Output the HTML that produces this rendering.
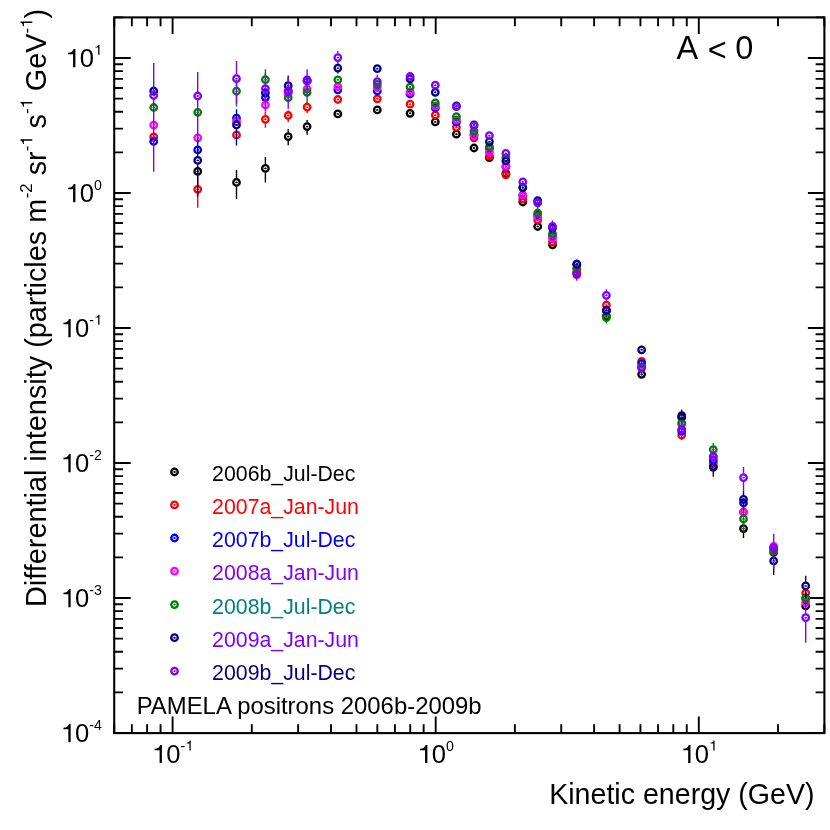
<!DOCTYPE html><html><head><meta charset="utf-8"><title>PAMELA positrons</title>
<style>html,body{margin:0;padding:0;background:#fff}svg{display:block;will-change:transform}text{font-family:"Liberation Sans",sans-serif;fill:#000}</style></head><body>
<svg width="830" height="830" viewBox="0 0 830 830">
<rect width="830" height="830" fill="#fff"/>
<rect x="114.2" y="17.4" width="710.2" height="715.7" fill="none" stroke="#000" stroke-width="2.1"/>
<path d="M114.23 733.1v-8.8M114.23 17.4v8.8M131.85 733.1v-8.8M131.85 17.4v8.8M147.10 733.1v-8.8M147.10 17.4v8.8M160.56 733.1v-8.8M160.56 17.4v8.8M172.60 733.1v-16.5M172.60 17.4v16.5M251.80 733.1v-8.8M251.80 17.4v8.8M298.13 733.1v-8.8M298.13 17.4v8.8M331.00 733.1v-8.8M331.00 17.4v8.8M356.50 733.1v-8.8M356.50 17.4v8.8M377.33 733.1v-8.8M377.33 17.4v8.8M394.95 733.1v-8.8M394.95 17.4v8.8M410.20 733.1v-8.8M410.20 17.4v8.8M423.66 733.1v-8.8M423.66 17.4v8.8M435.70 733.1v-16.5M435.70 17.4v16.5M514.90 733.1v-8.8M514.90 17.4v8.8M561.23 733.1v-8.8M561.23 17.4v8.8M594.10 733.1v-8.8M594.10 17.4v8.8M619.60 733.1v-8.8M619.60 17.4v8.8M640.43 733.1v-8.8M640.43 17.4v8.8M658.05 733.1v-8.8M658.05 17.4v8.8M673.30 733.1v-8.8M673.30 17.4v8.8M686.76 733.1v-8.8M686.76 17.4v8.8M698.80 733.1v-16.5M698.80 17.4v16.5M778.00 733.1v-8.8M778.00 17.4v8.8M824.33 733.1v-8.8M824.33 17.4v8.8M114.2 733.00h16.5M824.4 733.00h-16.5M114.2 692.36h8.8M824.4 692.36h-8.8M114.2 668.59h8.8M824.4 668.59h-8.8M114.2 651.72h8.8M824.4 651.72h-8.8M114.2 638.64h8.8M824.4 638.64h-8.8M114.2 627.95h8.8M824.4 627.95h-8.8M114.2 618.91h8.8M824.4 618.91h-8.8M114.2 611.08h8.8M824.4 611.08h-8.8M114.2 604.18h8.8M824.4 604.18h-8.8M114.2 598.00h16.5M824.4 598.00h-16.5M114.2 557.36h8.8M824.4 557.36h-8.8M114.2 533.59h8.8M824.4 533.59h-8.8M114.2 516.72h8.8M824.4 516.72h-8.8M114.2 503.64h8.8M824.4 503.64h-8.8M114.2 492.95h8.8M824.4 492.95h-8.8M114.2 483.91h8.8M824.4 483.91h-8.8M114.2 476.08h8.8M824.4 476.08h-8.8M114.2 469.18h8.8M824.4 469.18h-8.8M114.2 463.00h16.5M824.4 463.00h-16.5M114.2 422.36h8.8M824.4 422.36h-8.8M114.2 398.59h8.8M824.4 398.59h-8.8M114.2 381.72h8.8M824.4 381.72h-8.8M114.2 368.64h8.8M824.4 368.64h-8.8M114.2 357.95h8.8M824.4 357.95h-8.8M114.2 348.91h8.8M824.4 348.91h-8.8M114.2 341.08h8.8M824.4 341.08h-8.8M114.2 334.18h8.8M824.4 334.18h-8.8M114.2 328.00h16.5M824.4 328.00h-16.5M114.2 287.36h8.8M824.4 287.36h-8.8M114.2 263.59h8.8M824.4 263.59h-8.8M114.2 246.72h8.8M824.4 246.72h-8.8M114.2 233.64h8.8M824.4 233.64h-8.8M114.2 222.95h8.8M824.4 222.95h-8.8M114.2 213.91h8.8M824.4 213.91h-8.8M114.2 206.08h8.8M824.4 206.08h-8.8M114.2 199.18h8.8M824.4 199.18h-8.8M114.2 193.00h16.5M824.4 193.00h-16.5M114.2 152.36h8.8M824.4 152.36h-8.8M114.2 128.59h8.8M824.4 128.59h-8.8M114.2 111.72h8.8M824.4 111.72h-8.8M114.2 98.64h8.8M824.4 98.64h-8.8M114.2 87.95h8.8M824.4 87.95h-8.8M114.2 78.91h8.8M824.4 78.91h-8.8M114.2 71.08h8.8M824.4 71.08h-8.8M114.2 64.18h8.8M824.4 64.18h-8.8M114.2 58.00h16.5M824.4 58.00h-16.5M114.2 17.36h8.8M824.4 17.36h-8.8" stroke="#000" stroke-width="1.9" fill="none"/>
<path d="M102 560v-58h193V0h90V709h-66c-28-98-92-140-217-149z" transform="translate(152.05,763.10) scale(0.02560,-0.02560)" fill="#000"/><text transform="translate(166.29,763.10) scale(1,1.035)" font-size="25.6">0</text><text x="180.52" y="750.60" font-size="14.2">-</text><path d="M102 560v-58h193V0h90V709h-66c-28-98-92-140-217-149z" transform="translate(185.25,750.60) scale(0.01420,-0.01420)" fill="#000"/>
<path d="M102 560v-58h193V0h90V709h-66c-28-98-92-140-217-149z" transform="translate(417.52,763.10) scale(0.02560,-0.02560)" fill="#000"/><text transform="translate(431.75,763.10) scale(1,1.035)" font-size="25.6">0</text><text transform="translate(445.99,750.60) scale(1,1.035)" font-size="14.2">0</text>
<path d="M102 560v-58h193V0h90V709h-66c-28-98-92-140-217-149z" transform="translate(680.62,763.10) scale(0.02560,-0.02560)" fill="#000"/><text transform="translate(694.85,763.10) scale(1,1.035)" font-size="25.6">0</text><path d="M102 560v-58h193V0h90V709h-66c-28-98-92-140-217-149z" transform="translate(709.09,750.60) scale(0.01420,-0.01420)" fill="#000"/>
<path d="M102 560v-58h193V0h90V709h-66c-28-98-92-140-217-149z" transform="translate(60.81,742.20) scale(0.02560,-0.02560)" fill="#000"/><text transform="translate(75.04,742.20) scale(1,1.035)" font-size="25.6">0</text><text x="89.28" y="729.70" font-size="14.2">-</text><text transform="translate(94.00,729.70) scale(1,1.035)" font-size="14.2">4</text>
<path d="M102 560v-58h193V0h90V709h-66c-28-98-92-140-217-149z" transform="translate(60.81,607.20) scale(0.02560,-0.02560)" fill="#000"/><text transform="translate(75.04,607.20) scale(1,1.035)" font-size="25.6">0</text><text x="89.28" y="594.70" font-size="14.2">-</text><text transform="translate(94.00,594.70) scale(1,1.035)" font-size="14.2">3</text>
<path d="M102 560v-58h193V0h90V709h-66c-28-98-92-140-217-149z" transform="translate(60.81,472.20) scale(0.02560,-0.02560)" fill="#000"/><text transform="translate(75.04,472.20) scale(1,1.035)" font-size="25.6">0</text><text x="89.28" y="459.70" font-size="14.2">-</text><text transform="translate(94.00,459.70) scale(1,1.035)" font-size="14.2">2</text>
<path d="M102 560v-58h193V0h90V709h-66c-28-98-92-140-217-149z" transform="translate(60.81,337.20) scale(0.02560,-0.02560)" fill="#000"/><text transform="translate(75.04,337.20) scale(1,1.035)" font-size="25.6">0</text><text x="89.28" y="324.70" font-size="14.2">-</text><path d="M102 560v-58h193V0h90V709h-66c-28-98-92-140-217-149z" transform="translate(94.00,324.70) scale(0.01420,-0.01420)" fill="#000"/>
<path d="M102 560v-58h193V0h90V709h-66c-28-98-92-140-217-149z" transform="translate(65.54,202.20) scale(0.02560,-0.02560)" fill="#000"/><text transform="translate(79.77,202.20) scale(1,1.035)" font-size="25.6">0</text><text transform="translate(94.00,189.70) scale(1,1.035)" font-size="14.2">0</text>
<path d="M102 560v-58h193V0h90V709h-66c-28-98-92-140-217-149z" transform="translate(65.54,67.20) scale(0.02560,-0.02560)" fill="#000"/><text transform="translate(79.77,67.20) scale(1,1.035)" font-size="25.6">0</text><path d="M102 560v-58h193V0h90V709h-66c-28-98-92-140-217-149z" transform="translate(94.00,54.70) scale(0.01420,-0.01420)" fill="#000"/>
<text x="549.2" y="803.6" font-size="28.6">Kinetic energy (GeV)</text>
<g transform="translate(46.3,607.0) rotate(-90)"><text x="0.00" y="0" font-size="28.85" xml:space="preserve">Differential intensity (particles m</text><text x="408.80" y="-14.00" font-size="16.7">-</text><text x="414.37" y="-14.00" font-size="16.7">2</text><text x="423.65" y="0" font-size="28.85" xml:space="preserve"> sr</text><text x="455.70" y="-14.00" font-size="16.7">-</text><path d="M102 560v-58h193V0h90V709h-66c-28-98-92-140-217-149z" transform="translate(461.26,-14.00) scale(0.01670,-0.01670)" fill="#000"/><text x="470.55" y="0" font-size="28.85" xml:space="preserve"> s</text><text x="492.99" y="-14.00" font-size="16.7">-</text><path d="M102 560v-58h193V0h90V709h-66c-28-98-92-140-217-149z" transform="translate(498.56,-14.00) scale(0.01670,-0.01670)" fill="#000"/><text x="507.84" y="0" font-size="28.85" xml:space="preserve"> GeV</text><text x="573.59" y="-14.00" font-size="16.7">-</text><path d="M102 560v-58h193V0h90V709h-66c-28-98-92-140-217-149z" transform="translate(579.15,-14.00) scale(0.01670,-0.01670)" fill="#000"/><text x="588.44" y="0" font-size="28.85" xml:space="preserve">)</text></g>
<text transform="translate(676.4,58.7) scale(1,1.03)" font-size="32.5">A<tspan dx="0.7" dy="2.3"> &lt;</tspan><tspan dx="-0.7" dy="-2.3"> 0</tspan></text>
<text x="136.7" y="713.6" font-size="23.9">PAMELA positrons 2006b-2009b</text>
<g>
<path d="M236.5 170.0V178.4M236.5 186.4V198.9M265.4 157.1V164.4M265.4 172.4V182.4M288.2 129.0V132.6M288.2 140.6V145.3M307.1 119.9V122.6M307.1 130.6V134.7M743.5 521.0V524.6M743.5 532.6V537.9" stroke="#000000" stroke-width="1.4" fill="none"/>
<ellipse cx="197.7" cy="171.4" rx="1.3" ry="0.95" fill="#000000"/><circle cx="197.7" cy="171.4" r="3.25" fill="none" stroke="#000000" stroke-width="2.3"/>
<ellipse cx="236.5" cy="182.4" rx="1.3" ry="0.95" fill="#000000"/><circle cx="236.5" cy="182.4" r="3.25" fill="none" stroke="#000000" stroke-width="2.3"/>
<ellipse cx="265.4" cy="168.4" rx="1.3" ry="0.95" fill="#000000"/><circle cx="265.4" cy="168.4" r="3.25" fill="none" stroke="#000000" stroke-width="2.3"/>
<ellipse cx="288.2" cy="136.6" rx="1.3" ry="0.95" fill="#000000"/><circle cx="288.2" cy="136.6" r="3.25" fill="none" stroke="#000000" stroke-width="2.3"/>
<ellipse cx="307.1" cy="126.6" rx="1.3" ry="0.95" fill="#000000"/><circle cx="307.1" cy="126.6" r="3.25" fill="none" stroke="#000000" stroke-width="2.3"/>
<ellipse cx="337.8" cy="113.9" rx="1.3" ry="0.95" fill="#000000"/><circle cx="337.8" cy="113.9" r="3.25" fill="none" stroke="#000000" stroke-width="2.3"/>
<ellipse cx="377.3" cy="109.9" rx="1.3" ry="0.95" fill="#000000"/><circle cx="377.3" cy="109.9" r="3.25" fill="none" stroke="#000000" stroke-width="2.3"/>
<ellipse cx="410.1" cy="113.3" rx="1.3" ry="0.95" fill="#000000"/><circle cx="410.1" cy="113.3" r="3.25" fill="none" stroke="#000000" stroke-width="2.3"/>
<ellipse cx="435.3" cy="121.9" rx="1.3" ry="0.95" fill="#000000"/><circle cx="435.3" cy="121.9" r="3.25" fill="none" stroke="#000000" stroke-width="2.3"/>
<ellipse cx="456.4" cy="134.2" rx="1.3" ry="0.95" fill="#000000"/><circle cx="456.4" cy="134.2" r="3.25" fill="none" stroke="#000000" stroke-width="2.3"/>
<ellipse cx="474.0" cy="148.0" rx="1.3" ry="0.95" fill="#000000"/><circle cx="474.0" cy="148.0" r="3.25" fill="none" stroke="#000000" stroke-width="2.3"/>
<ellipse cx="489.4" cy="157.7" rx="1.3" ry="0.95" fill="#000000"/><circle cx="489.4" cy="157.7" r="3.25" fill="none" stroke="#000000" stroke-width="2.3"/>
<ellipse cx="505.9" cy="173.4" rx="1.3" ry="0.95" fill="#000000"/><circle cx="505.9" cy="173.4" r="3.25" fill="none" stroke="#000000" stroke-width="2.3"/>
<ellipse cx="522.8" cy="202.0" rx="1.3" ry="0.95" fill="#000000"/><circle cx="522.8" cy="202.0" r="3.25" fill="none" stroke="#000000" stroke-width="2.3"/>
<ellipse cx="537.7" cy="226.5" rx="1.3" ry="0.95" fill="#000000"/><circle cx="537.7" cy="226.5" r="3.25" fill="none" stroke="#000000" stroke-width="2.3"/>
<ellipse cx="552.5" cy="244.8" rx="1.3" ry="0.95" fill="#000000"/><circle cx="552.5" cy="244.8" r="3.25" fill="none" stroke="#000000" stroke-width="2.3"/>
<ellipse cx="576.8" cy="273.0" rx="1.3" ry="0.95" fill="#000000"/><circle cx="576.8" cy="273.0" r="3.25" fill="none" stroke="#000000" stroke-width="2.3"/>
<ellipse cx="606.4" cy="316.0" rx="1.3" ry="0.95" fill="#000000"/><circle cx="606.4" cy="316.0" r="3.25" fill="none" stroke="#000000" stroke-width="2.3"/>
<ellipse cx="641.6" cy="374.3" rx="1.3" ry="0.95" fill="#000000"/><circle cx="641.6" cy="374.3" r="3.25" fill="none" stroke="#000000" stroke-width="2.3"/>
<ellipse cx="681.7" cy="417.4" rx="1.3" ry="0.95" fill="#000000"/><circle cx="681.7" cy="417.4" r="3.25" fill="none" stroke="#000000" stroke-width="2.3"/>
<ellipse cx="713.3" cy="466.5" rx="1.3" ry="0.95" fill="#000000"/><circle cx="713.3" cy="466.5" r="3.25" fill="none" stroke="#000000" stroke-width="2.3"/>
<ellipse cx="743.5" cy="528.6" rx="1.3" ry="0.95" fill="#000000"/><circle cx="743.5" cy="528.6" r="3.25" fill="none" stroke="#000000" stroke-width="2.3"/>
<ellipse cx="773.7" cy="552.3" rx="1.3" ry="0.95" fill="#000000"/><circle cx="773.7" cy="552.3" r="3.25" fill="none" stroke="#000000" stroke-width="2.3"/>
<ellipse cx="805.7" cy="605.9" rx="1.3" ry="0.95" fill="#000000"/><circle cx="805.7" cy="605.9" r="3.25" fill="none" stroke="#000000" stroke-width="2.3"/>
</g>
<g>
<path d="M197.7 175.3V185.3M197.7 193.3V207.7M265.4 112.5V115.3M265.4 123.3V127.8M288.2 110.2V111.5M288.2 119.5V122.3M307.1 102.0V103.1M307.1 111.1V113.3" stroke="#ff0000" stroke-width="1.4" fill="none"/>
<ellipse cx="153.7" cy="136.9" rx="1.3" ry="0.95" fill="#ff0000"/><circle cx="153.7" cy="136.9" r="3.25" fill="none" stroke="#ff0000" stroke-width="2.3"/>
<ellipse cx="197.7" cy="189.3" rx="1.3" ry="0.95" fill="#ff0000"/><circle cx="197.7" cy="189.3" r="3.25" fill="none" stroke="#ff0000" stroke-width="2.3"/>
<ellipse cx="236.5" cy="134.9" rx="1.3" ry="0.95" fill="#ff0000"/><circle cx="236.5" cy="134.9" r="3.25" fill="none" stroke="#ff0000" stroke-width="2.3"/>
<ellipse cx="265.4" cy="119.3" rx="1.3" ry="0.95" fill="#ff0000"/><circle cx="265.4" cy="119.3" r="3.25" fill="none" stroke="#ff0000" stroke-width="2.3"/>
<ellipse cx="288.2" cy="115.5" rx="1.3" ry="0.95" fill="#ff0000"/><circle cx="288.2" cy="115.5" r="3.25" fill="none" stroke="#ff0000" stroke-width="2.3"/>
<ellipse cx="307.1" cy="107.1" rx="1.3" ry="0.95" fill="#ff0000"/><circle cx="307.1" cy="107.1" r="3.25" fill="none" stroke="#ff0000" stroke-width="2.3"/>
<ellipse cx="337.8" cy="99.5" rx="1.3" ry="0.95" fill="#ff0000"/><circle cx="337.8" cy="99.5" r="3.25" fill="none" stroke="#ff0000" stroke-width="2.3"/>
<ellipse cx="377.3" cy="98.8" rx="1.3" ry="0.95" fill="#ff0000"/><circle cx="377.3" cy="98.8" r="3.25" fill="none" stroke="#ff0000" stroke-width="2.3"/>
<ellipse cx="410.1" cy="104.2" rx="1.3" ry="0.95" fill="#ff0000"/><circle cx="410.1" cy="104.2" r="3.25" fill="none" stroke="#ff0000" stroke-width="2.3"/>
<ellipse cx="435.3" cy="115.2" rx="1.3" ry="0.95" fill="#ff0000"/><circle cx="435.3" cy="115.2" r="3.25" fill="none" stroke="#ff0000" stroke-width="2.3"/>
<ellipse cx="456.4" cy="127.3" rx="1.3" ry="0.95" fill="#ff0000"/><circle cx="456.4" cy="127.3" r="3.25" fill="none" stroke="#ff0000" stroke-width="2.3"/>
<ellipse cx="474.0" cy="137.8" rx="1.3" ry="0.95" fill="#ff0000"/><circle cx="474.0" cy="137.8" r="3.25" fill="none" stroke="#ff0000" stroke-width="2.3"/>
<ellipse cx="489.4" cy="156.2" rx="1.3" ry="0.95" fill="#ff0000"/><circle cx="489.4" cy="156.2" r="3.25" fill="none" stroke="#ff0000" stroke-width="2.3"/>
<ellipse cx="505.9" cy="174.8" rx="1.3" ry="0.95" fill="#ff0000"/><circle cx="505.9" cy="174.8" r="3.25" fill="none" stroke="#ff0000" stroke-width="2.3"/>
<ellipse cx="522.8" cy="199.0" rx="1.3" ry="0.95" fill="#ff0000"/><circle cx="522.8" cy="199.0" r="3.25" fill="none" stroke="#ff0000" stroke-width="2.3"/>
<ellipse cx="537.7" cy="219.9" rx="1.3" ry="0.95" fill="#ff0000"/><circle cx="537.7" cy="219.9" r="3.25" fill="none" stroke="#ff0000" stroke-width="2.3"/>
<ellipse cx="552.5" cy="242.2" rx="1.3" ry="0.95" fill="#ff0000"/><circle cx="552.5" cy="242.2" r="3.25" fill="none" stroke="#ff0000" stroke-width="2.3"/>
<ellipse cx="576.8" cy="272.0" rx="1.3" ry="0.95" fill="#ff0000"/><circle cx="576.8" cy="272.0" r="3.25" fill="none" stroke="#ff0000" stroke-width="2.3"/>
<ellipse cx="606.4" cy="305.2" rx="1.3" ry="0.95" fill="#ff0000"/><circle cx="606.4" cy="305.2" r="3.25" fill="none" stroke="#ff0000" stroke-width="2.3"/>
<ellipse cx="641.6" cy="361.3" rx="1.3" ry="0.95" fill="#ff0000"/><circle cx="641.6" cy="361.3" r="3.25" fill="none" stroke="#ff0000" stroke-width="2.3"/>
<ellipse cx="681.7" cy="435.2" rx="1.3" ry="0.95" fill="#ff0000"/><circle cx="681.7" cy="435.2" r="3.25" fill="none" stroke="#ff0000" stroke-width="2.3"/>
<ellipse cx="713.3" cy="463.2" rx="1.3" ry="0.95" fill="#ff0000"/><circle cx="713.3" cy="463.2" r="3.25" fill="none" stroke="#ff0000" stroke-width="2.3"/>
<ellipse cx="743.5" cy="512.0" rx="1.3" ry="0.95" fill="#ff0000"/><circle cx="743.5" cy="512.0" r="3.25" fill="none" stroke="#ff0000" stroke-width="2.3"/>
<ellipse cx="773.7" cy="549.0" rx="1.3" ry="0.95" fill="#ff0000"/><circle cx="773.7" cy="549.0" r="3.25" fill="none" stroke="#ff0000" stroke-width="2.3"/>
<ellipse cx="805.7" cy="593.1" rx="1.3" ry="0.95" fill="#ff0000"/><circle cx="805.7" cy="593.1" r="3.25" fill="none" stroke="#ff0000" stroke-width="2.3"/>
</g>
<g>
<ellipse cx="153.7" cy="141.4" rx="1.3" ry="0.95" fill="#0000ff"/><circle cx="153.7" cy="141.4" r="3.25" fill="none" stroke="#0000ff" stroke-width="2.3"/>
<ellipse cx="197.7" cy="149.9" rx="1.3" ry="0.95" fill="#0000ff"/><circle cx="197.7" cy="149.9" r="3.25" fill="none" stroke="#0000ff" stroke-width="2.3"/>
<ellipse cx="236.5" cy="118.1" rx="1.3" ry="0.95" fill="#0000ff"/><circle cx="236.5" cy="118.1" r="3.25" fill="none" stroke="#0000ff" stroke-width="2.3"/>
<ellipse cx="265.4" cy="97.6" rx="1.3" ry="0.95" fill="#0000ff"/><circle cx="265.4" cy="97.6" r="3.25" fill="none" stroke="#0000ff" stroke-width="2.3"/>
<ellipse cx="288.2" cy="91.0" rx="1.3" ry="0.95" fill="#0000ff"/><circle cx="288.2" cy="91.0" r="3.25" fill="none" stroke="#0000ff" stroke-width="2.3"/>
<ellipse cx="307.1" cy="81.0" rx="1.3" ry="0.95" fill="#0000ff"/><circle cx="307.1" cy="81.0" r="3.25" fill="none" stroke="#0000ff" stroke-width="2.3"/>
<ellipse cx="337.8" cy="89.8" rx="1.3" ry="0.95" fill="#0000ff"/><circle cx="337.8" cy="89.8" r="3.25" fill="none" stroke="#0000ff" stroke-width="2.3"/>
<ellipse cx="377.3" cy="91.0" rx="1.3" ry="0.95" fill="#0000ff"/><circle cx="377.3" cy="91.0" r="3.25" fill="none" stroke="#0000ff" stroke-width="2.3"/>
<ellipse cx="410.1" cy="94.0" rx="1.3" ry="0.95" fill="#0000ff"/><circle cx="410.1" cy="94.0" r="3.25" fill="none" stroke="#0000ff" stroke-width="2.3"/>
<ellipse cx="435.3" cy="108.0" rx="1.3" ry="0.95" fill="#0000ff"/><circle cx="435.3" cy="108.0" r="3.25" fill="none" stroke="#0000ff" stroke-width="2.3"/>
<ellipse cx="456.4" cy="122.2" rx="1.3" ry="0.95" fill="#0000ff"/><circle cx="456.4" cy="122.2" r="3.25" fill="none" stroke="#0000ff" stroke-width="2.3"/>
<ellipse cx="474.0" cy="134.5" rx="1.3" ry="0.95" fill="#0000ff"/><circle cx="474.0" cy="134.5" r="3.25" fill="none" stroke="#0000ff" stroke-width="2.3"/>
<ellipse cx="489.4" cy="148.4" rx="1.3" ry="0.95" fill="#0000ff"/><circle cx="489.4" cy="148.4" r="3.25" fill="none" stroke="#0000ff" stroke-width="2.3"/>
<ellipse cx="505.9" cy="166.8" rx="1.3" ry="0.95" fill="#0000ff"/><circle cx="505.9" cy="166.8" r="3.25" fill="none" stroke="#0000ff" stroke-width="2.3"/>
<ellipse cx="522.8" cy="195.6" rx="1.3" ry="0.95" fill="#0000ff"/><circle cx="522.8" cy="195.6" r="3.25" fill="none" stroke="#0000ff" stroke-width="2.3"/>
<ellipse cx="537.7" cy="215.0" rx="1.3" ry="0.95" fill="#0000ff"/><circle cx="537.7" cy="215.0" r="3.25" fill="none" stroke="#0000ff" stroke-width="2.3"/>
<ellipse cx="552.5" cy="236.0" rx="1.3" ry="0.95" fill="#0000ff"/><circle cx="552.5" cy="236.0" r="3.25" fill="none" stroke="#0000ff" stroke-width="2.3"/>
<ellipse cx="576.8" cy="264.0" rx="1.3" ry="0.95" fill="#0000ff"/><circle cx="576.8" cy="264.0" r="3.25" fill="none" stroke="#0000ff" stroke-width="2.3"/>
<ellipse cx="606.4" cy="310.4" rx="1.3" ry="0.95" fill="#0000ff"/><circle cx="606.4" cy="310.4" r="3.25" fill="none" stroke="#0000ff" stroke-width="2.3"/>
<ellipse cx="641.6" cy="363.4" rx="1.3" ry="0.95" fill="#0000ff"/><circle cx="641.6" cy="363.4" r="3.25" fill="none" stroke="#0000ff" stroke-width="2.3"/>
<ellipse cx="681.7" cy="431.2" rx="1.3" ry="0.95" fill="#0000ff"/><circle cx="681.7" cy="431.2" r="3.25" fill="none" stroke="#0000ff" stroke-width="2.3"/>
<ellipse cx="713.3" cy="460.0" rx="1.3" ry="0.95" fill="#0000ff"/><circle cx="713.3" cy="460.0" r="3.25" fill="none" stroke="#0000ff" stroke-width="2.3"/>
<ellipse cx="743.5" cy="503.0" rx="1.3" ry="0.95" fill="#0000ff"/><circle cx="743.5" cy="503.0" r="3.25" fill="none" stroke="#0000ff" stroke-width="2.3"/>
<ellipse cx="773.7" cy="548.0" rx="1.3" ry="0.95" fill="#0000ff"/><circle cx="773.7" cy="548.0" r="3.25" fill="none" stroke="#0000ff" stroke-width="2.3"/>
<ellipse cx="805.7" cy="598.0" rx="1.3" ry="0.95" fill="#0000ff"/><circle cx="805.7" cy="598.0" r="3.25" fill="none" stroke="#0000ff" stroke-width="2.3"/>
</g>
<g>
<path d="M265.4 97.0V101.0M265.4 109.0V115.0M743.5 505.0V508.2M743.5 516.2V521.3" stroke="#ff00ff" stroke-width="1.4" fill="none"/>
<ellipse cx="153.7" cy="125.1" rx="1.3" ry="0.95" fill="#ff00ff"/><circle cx="153.7" cy="125.1" r="3.25" fill="none" stroke="#ff00ff" stroke-width="2.3"/>
<ellipse cx="197.7" cy="137.8" rx="1.3" ry="0.95" fill="#ff00ff"/><circle cx="197.7" cy="137.8" r="3.25" fill="none" stroke="#ff00ff" stroke-width="2.3"/>
<ellipse cx="236.5" cy="121.7" rx="1.3" ry="0.95" fill="#ff00ff"/><circle cx="236.5" cy="121.7" r="3.25" fill="none" stroke="#ff00ff" stroke-width="2.3"/>
<ellipse cx="265.4" cy="105.0" rx="1.3" ry="0.95" fill="#ff00ff"/><circle cx="265.4" cy="105.0" r="3.25" fill="none" stroke="#ff00ff" stroke-width="2.3"/>
<ellipse cx="288.2" cy="93.6" rx="1.3" ry="0.95" fill="#ff00ff"/><circle cx="288.2" cy="93.6" r="3.25" fill="none" stroke="#ff00ff" stroke-width="2.3"/>
<ellipse cx="307.1" cy="89.0" rx="1.3" ry="0.95" fill="#ff00ff"/><circle cx="307.1" cy="89.0" r="3.25" fill="none" stroke="#ff00ff" stroke-width="2.3"/>
<ellipse cx="337.8" cy="86.5" rx="1.3" ry="0.95" fill="#ff00ff"/><circle cx="337.8" cy="86.5" r="3.25" fill="none" stroke="#ff00ff" stroke-width="2.3"/>
<ellipse cx="377.3" cy="87.3" rx="1.3" ry="0.95" fill="#ff00ff"/><circle cx="377.3" cy="87.3" r="3.25" fill="none" stroke="#ff00ff" stroke-width="2.3"/>
<ellipse cx="410.1" cy="92.2" rx="1.3" ry="0.95" fill="#ff00ff"/><circle cx="410.1" cy="92.2" r="3.25" fill="none" stroke="#ff00ff" stroke-width="2.3"/>
<ellipse cx="435.3" cy="105.9" rx="1.3" ry="0.95" fill="#ff00ff"/><circle cx="435.3" cy="105.9" r="3.25" fill="none" stroke="#ff00ff" stroke-width="2.3"/>
<ellipse cx="456.4" cy="119.8" rx="1.3" ry="0.95" fill="#ff00ff"/><circle cx="456.4" cy="119.8" r="3.25" fill="none" stroke="#ff00ff" stroke-width="2.3"/>
<ellipse cx="474.0" cy="135.3" rx="1.3" ry="0.95" fill="#ff00ff"/><circle cx="474.0" cy="135.3" r="3.25" fill="none" stroke="#ff00ff" stroke-width="2.3"/>
<ellipse cx="489.4" cy="152.2" rx="1.3" ry="0.95" fill="#ff00ff"/><circle cx="489.4" cy="152.2" r="3.25" fill="none" stroke="#ff00ff" stroke-width="2.3"/>
<ellipse cx="505.9" cy="166.4" rx="1.3" ry="0.95" fill="#ff00ff"/><circle cx="505.9" cy="166.4" r="3.25" fill="none" stroke="#ff00ff" stroke-width="2.3"/>
<ellipse cx="522.8" cy="195.2" rx="1.3" ry="0.95" fill="#ff00ff"/><circle cx="522.8" cy="195.2" r="3.25" fill="none" stroke="#ff00ff" stroke-width="2.3"/>
<ellipse cx="537.7" cy="216.9" rx="1.3" ry="0.95" fill="#ff00ff"/><circle cx="537.7" cy="216.9" r="3.25" fill="none" stroke="#ff00ff" stroke-width="2.3"/>
<ellipse cx="552.5" cy="238.3" rx="1.3" ry="0.95" fill="#ff00ff"/><circle cx="552.5" cy="238.3" r="3.25" fill="none" stroke="#ff00ff" stroke-width="2.3"/>
<ellipse cx="576.8" cy="268.5" rx="1.3" ry="0.95" fill="#ff00ff"/><circle cx="576.8" cy="268.5" r="3.25" fill="none" stroke="#ff00ff" stroke-width="2.3"/>
<ellipse cx="606.4" cy="310.6" rx="1.3" ry="0.95" fill="#ff00ff"/><circle cx="606.4" cy="310.6" r="3.25" fill="none" stroke="#ff00ff" stroke-width="2.3"/>
<ellipse cx="641.6" cy="367.3" rx="1.3" ry="0.95" fill="#ff00ff"/><circle cx="641.6" cy="367.3" r="3.25" fill="none" stroke="#ff00ff" stroke-width="2.3"/>
<ellipse cx="681.7" cy="424.0" rx="1.3" ry="0.95" fill="#ff00ff"/><circle cx="681.7" cy="424.0" r="3.25" fill="none" stroke="#ff00ff" stroke-width="2.3"/>
<ellipse cx="713.3" cy="456.7" rx="1.3" ry="0.95" fill="#ff00ff"/><circle cx="713.3" cy="456.7" r="3.25" fill="none" stroke="#ff00ff" stroke-width="2.3"/>
<ellipse cx="743.5" cy="512.2" rx="1.3" ry="0.95" fill="#ff00ff"/><circle cx="743.5" cy="512.2" r="3.25" fill="none" stroke="#ff00ff" stroke-width="2.3"/>
<ellipse cx="773.7" cy="546.3" rx="1.3" ry="0.95" fill="#ff00ff"/><circle cx="773.7" cy="546.3" r="3.25" fill="none" stroke="#ff00ff" stroke-width="2.3"/>
<ellipse cx="805.7" cy="602.3" rx="1.3" ry="0.95" fill="#ff00ff"/><circle cx="805.7" cy="602.3" r="3.25" fill="none" stroke="#ff00ff" stroke-width="2.3"/>
</g>
<g>
<path d="M236.5 80.0V87.2M236.5 95.2V106.6M265.4 69.3V75.7M265.4 83.7V92.0M307.1 84.0V88.3M307.1 96.3V103.0M606.4 313.0V313.7M606.4 321.7V323.4M713.3 443.1V445.6M713.3 453.6V457.0M743.5 509.9V514.9M743.5 522.9V531.6" stroke="#008000" stroke-width="1.4" fill="none"/>
<ellipse cx="153.7" cy="107.5" rx="1.3" ry="0.95" fill="#008000"/><circle cx="153.7" cy="107.5" r="3.25" fill="none" stroke="#008000" stroke-width="2.3"/>
<ellipse cx="197.7" cy="112.3" rx="1.3" ry="0.95" fill="#008000"/><circle cx="197.7" cy="112.3" r="3.25" fill="none" stroke="#008000" stroke-width="2.3"/>
<ellipse cx="236.5" cy="91.2" rx="1.3" ry="0.95" fill="#008000"/><circle cx="236.5" cy="91.2" r="3.25" fill="none" stroke="#008000" stroke-width="2.3"/>
<ellipse cx="265.4" cy="79.7" rx="1.3" ry="0.95" fill="#008000"/><circle cx="265.4" cy="79.7" r="3.25" fill="none" stroke="#008000" stroke-width="2.3"/>
<ellipse cx="288.2" cy="97.7" rx="1.3" ry="0.95" fill="#008000"/><circle cx="288.2" cy="97.7" r="3.25" fill="none" stroke="#008000" stroke-width="2.3"/>
<ellipse cx="307.1" cy="92.3" rx="1.3" ry="0.95" fill="#008000"/><circle cx="307.1" cy="92.3" r="3.25" fill="none" stroke="#008000" stroke-width="2.3"/>
<ellipse cx="337.8" cy="79.8" rx="1.3" ry="0.95" fill="#008000"/><circle cx="337.8" cy="79.8" r="3.25" fill="none" stroke="#008000" stroke-width="2.3"/>
<ellipse cx="377.3" cy="84.3" rx="1.3" ry="0.95" fill="#008000"/><circle cx="377.3" cy="84.3" r="3.25" fill="none" stroke="#008000" stroke-width="2.3"/>
<ellipse cx="410.1" cy="87.0" rx="1.3" ry="0.95" fill="#008000"/><circle cx="410.1" cy="87.0" r="3.25" fill="none" stroke="#008000" stroke-width="2.3"/>
<ellipse cx="435.3" cy="102.9" rx="1.3" ry="0.95" fill="#008000"/><circle cx="435.3" cy="102.9" r="3.25" fill="none" stroke="#008000" stroke-width="2.3"/>
<ellipse cx="456.4" cy="116.7" rx="1.3" ry="0.95" fill="#008000"/><circle cx="456.4" cy="116.7" r="3.25" fill="none" stroke="#008000" stroke-width="2.3"/>
<ellipse cx="474.0" cy="131.1" rx="1.3" ry="0.95" fill="#008000"/><circle cx="474.0" cy="131.1" r="3.25" fill="none" stroke="#008000" stroke-width="2.3"/>
<ellipse cx="489.4" cy="146.7" rx="1.3" ry="0.95" fill="#008000"/><circle cx="489.4" cy="146.7" r="3.25" fill="none" stroke="#008000" stroke-width="2.3"/>
<ellipse cx="505.9" cy="157.8" rx="1.3" ry="0.95" fill="#008000"/><circle cx="505.9" cy="157.8" r="3.25" fill="none" stroke="#008000" stroke-width="2.3"/>
<ellipse cx="522.8" cy="187.2" rx="1.3" ry="0.95" fill="#008000"/><circle cx="522.8" cy="187.2" r="3.25" fill="none" stroke="#008000" stroke-width="2.3"/>
<ellipse cx="537.7" cy="213.0" rx="1.3" ry="0.95" fill="#008000"/><circle cx="537.7" cy="213.0" r="3.25" fill="none" stroke="#008000" stroke-width="2.3"/>
<ellipse cx="552.5" cy="233.7" rx="1.3" ry="0.95" fill="#008000"/><circle cx="552.5" cy="233.7" r="3.25" fill="none" stroke="#008000" stroke-width="2.3"/>
<ellipse cx="576.8" cy="268.9" rx="1.3" ry="0.95" fill="#008000"/><circle cx="576.8" cy="268.9" r="3.25" fill="none" stroke="#008000" stroke-width="2.3"/>
<ellipse cx="606.4" cy="317.7" rx="1.3" ry="0.95" fill="#008000"/><circle cx="606.4" cy="317.7" r="3.25" fill="none" stroke="#008000" stroke-width="2.3"/>
<ellipse cx="641.6" cy="366.8" rx="1.3" ry="0.95" fill="#008000"/><circle cx="641.6" cy="366.8" r="3.25" fill="none" stroke="#008000" stroke-width="2.3"/>
<ellipse cx="681.7" cy="423.0" rx="1.3" ry="0.95" fill="#008000"/><circle cx="681.7" cy="423.0" r="3.25" fill="none" stroke="#008000" stroke-width="2.3"/>
<ellipse cx="713.3" cy="449.6" rx="1.3" ry="0.95" fill="#008000"/><circle cx="713.3" cy="449.6" r="3.25" fill="none" stroke="#008000" stroke-width="2.3"/>
<ellipse cx="743.5" cy="518.9" rx="1.3" ry="0.95" fill="#008000"/><circle cx="743.5" cy="518.9" r="3.25" fill="none" stroke="#008000" stroke-width="2.3"/>
<ellipse cx="773.7" cy="551.4" rx="1.3" ry="0.95" fill="#008000"/><circle cx="773.7" cy="551.4" r="3.25" fill="none" stroke="#008000" stroke-width="2.3"/>
<ellipse cx="805.7" cy="598.6" rx="1.3" ry="0.95" fill="#008000"/><circle cx="805.7" cy="598.6" r="3.25" fill="none" stroke="#008000" stroke-width="2.3"/>
</g>
<g>
<path d="M197.7 138.2V156.4M197.7 164.4V196.5M236.5 109.3V120.9M236.5 128.9V145.4M288.2 75.6V81.7M288.2 89.7V96.0M337.8 63.2V64.1M337.8 72.1V73.5M681.7 409.5V411.7M681.7 419.7V422.6M713.3 459.0V463.3M713.3 471.3V476.8M743.5 490.8V495.3M743.5 503.3V509.9M773.7 549.5V556.9M773.7 564.9V574.9M805.7 575.8V581.9M805.7 589.9V598.5" stroke="#000080" stroke-width="1.4" fill="none"/>
<ellipse cx="153.7" cy="91.0" rx="1.3" ry="0.95" fill="#000080"/><circle cx="153.7" cy="91.0" r="3.25" fill="none" stroke="#000080" stroke-width="2.3"/>
<ellipse cx="197.7" cy="160.4" rx="1.3" ry="0.95" fill="#000080"/><circle cx="197.7" cy="160.4" r="3.25" fill="none" stroke="#000080" stroke-width="2.3"/>
<ellipse cx="236.5" cy="124.9" rx="1.3" ry="0.95" fill="#000080"/><circle cx="236.5" cy="124.9" r="3.25" fill="none" stroke="#000080" stroke-width="2.3"/>
<ellipse cx="265.4" cy="92.9" rx="1.3" ry="0.95" fill="#000080"/><circle cx="265.4" cy="92.9" r="3.25" fill="none" stroke="#000080" stroke-width="2.3"/>
<ellipse cx="288.2" cy="85.7" rx="1.3" ry="0.95" fill="#000080"/><circle cx="288.2" cy="85.7" r="3.25" fill="none" stroke="#000080" stroke-width="2.3"/>
<ellipse cx="307.1" cy="80.0" rx="1.3" ry="0.95" fill="#000080"/><circle cx="307.1" cy="80.0" r="3.25" fill="none" stroke="#000080" stroke-width="2.3"/>
<ellipse cx="337.8" cy="68.1" rx="1.3" ry="0.95" fill="#000080"/><circle cx="337.8" cy="68.1" r="3.25" fill="none" stroke="#000080" stroke-width="2.3"/>
<ellipse cx="377.3" cy="68.7" rx="1.3" ry="0.95" fill="#000080"/><circle cx="377.3" cy="68.7" r="3.25" fill="none" stroke="#000080" stroke-width="2.3"/>
<ellipse cx="410.1" cy="78.9" rx="1.3" ry="0.95" fill="#000080"/><circle cx="410.1" cy="78.9" r="3.25" fill="none" stroke="#000080" stroke-width="2.3"/>
<ellipse cx="435.3" cy="92.3" rx="1.3" ry="0.95" fill="#000080"/><circle cx="435.3" cy="92.3" r="3.25" fill="none" stroke="#000080" stroke-width="2.3"/>
<ellipse cx="456.4" cy="105.9" rx="1.3" ry="0.95" fill="#000080"/><circle cx="456.4" cy="105.9" r="3.25" fill="none" stroke="#000080" stroke-width="2.3"/>
<ellipse cx="474.0" cy="125.0" rx="1.3" ry="0.95" fill="#000080"/><circle cx="474.0" cy="125.0" r="3.25" fill="none" stroke="#000080" stroke-width="2.3"/>
<ellipse cx="489.4" cy="141.6" rx="1.3" ry="0.95" fill="#000080"/><circle cx="489.4" cy="141.6" r="3.25" fill="none" stroke="#000080" stroke-width="2.3"/>
<ellipse cx="505.9" cy="161.0" rx="1.3" ry="0.95" fill="#000080"/><circle cx="505.9" cy="161.0" r="3.25" fill="none" stroke="#000080" stroke-width="2.3"/>
<ellipse cx="522.8" cy="187.8" rx="1.3" ry="0.95" fill="#000080"/><circle cx="522.8" cy="187.8" r="3.25" fill="none" stroke="#000080" stroke-width="2.3"/>
<ellipse cx="537.7" cy="200.7" rx="1.3" ry="0.95" fill="#000080"/><circle cx="537.7" cy="200.7" r="3.25" fill="none" stroke="#000080" stroke-width="2.3"/>
<ellipse cx="552.5" cy="228.0" rx="1.3" ry="0.95" fill="#000080"/><circle cx="552.5" cy="228.0" r="3.25" fill="none" stroke="#000080" stroke-width="2.3"/>
<ellipse cx="576.8" cy="264.4" rx="1.3" ry="0.95" fill="#000080"/><circle cx="576.8" cy="264.4" r="3.25" fill="none" stroke="#000080" stroke-width="2.3"/>
<ellipse cx="606.4" cy="310.4" rx="1.3" ry="0.95" fill="#000080"/><circle cx="606.4" cy="310.4" r="3.25" fill="none" stroke="#000080" stroke-width="2.3"/>
<ellipse cx="641.6" cy="349.8" rx="1.3" ry="0.95" fill="#000080"/><circle cx="641.6" cy="349.8" r="3.25" fill="none" stroke="#000080" stroke-width="2.3"/>
<ellipse cx="681.7" cy="415.7" rx="1.3" ry="0.95" fill="#000080"/><circle cx="681.7" cy="415.7" r="3.25" fill="none" stroke="#000080" stroke-width="2.3"/>
<ellipse cx="713.3" cy="467.3" rx="1.3" ry="0.95" fill="#000080"/><circle cx="713.3" cy="467.3" r="3.25" fill="none" stroke="#000080" stroke-width="2.3"/>
<ellipse cx="743.5" cy="499.3" rx="1.3" ry="0.95" fill="#000080"/><circle cx="743.5" cy="499.3" r="3.25" fill="none" stroke="#000080" stroke-width="2.3"/>
<ellipse cx="773.7" cy="560.9" rx="1.3" ry="0.95" fill="#000080"/><circle cx="773.7" cy="560.9" r="3.25" fill="none" stroke="#000080" stroke-width="2.3"/>
<ellipse cx="805.7" cy="585.9" rx="1.3" ry="0.95" fill="#000080"/><circle cx="805.7" cy="585.9" r="3.25" fill="none" stroke="#000080" stroke-width="2.3"/>
</g>
<g>
<path d="M153.7 63.0V91.5M153.7 99.5V171.8M197.7 72.0V92.0M197.7 100.0V138.5M236.5 61.1V74.7M236.5 82.7V103.6M265.4 73.0V84.6M265.4 92.6V109.9M288.2 77.2V87.1M288.2 95.1V108.8M307.1 69.2V76.7M307.1 84.7V97.0M337.8 51.1V53.6M337.8 61.6V63.7M377.3 74.7V77.6M377.3 85.6V89.5M537.7 197.5V198.9M537.7 206.9V208.8M552.5 220.5V222.3M552.5 230.3V233.0M576.8 269.0V270.6M576.8 278.6V280.8M606.4 289.2V291.3M606.4 299.3V301.7M641.6 361.0V363.8M641.6 371.8V376.0M681.7 420.0V425.3M681.7 433.3V439.9M713.3 446.7V452.7M713.3 460.7V468.6M743.5 467.1V473.6M743.5 481.6V490.8M773.7 533.7V544.0M773.7 552.0V568.4M805.7 600.2V613.7M805.7 621.7V642.8" stroke="#8000ff" stroke-width="1.4" fill="none"/>
<ellipse cx="153.7" cy="95.5" rx="1.3" ry="0.95" fill="#8000ff"/><circle cx="153.7" cy="95.5" r="3.25" fill="none" stroke="#8000ff" stroke-width="2.3"/>
<ellipse cx="197.7" cy="96.0" rx="1.3" ry="0.95" fill="#8000ff"/><circle cx="197.7" cy="96.0" r="3.25" fill="none" stroke="#8000ff" stroke-width="2.3"/>
<ellipse cx="236.5" cy="78.7" rx="1.3" ry="0.95" fill="#8000ff"/><circle cx="236.5" cy="78.7" r="3.25" fill="none" stroke="#8000ff" stroke-width="2.3"/>
<ellipse cx="265.4" cy="88.6" rx="1.3" ry="0.95" fill="#8000ff"/><circle cx="265.4" cy="88.6" r="3.25" fill="none" stroke="#8000ff" stroke-width="2.3"/>
<ellipse cx="288.2" cy="91.1" rx="1.3" ry="0.95" fill="#8000ff"/><circle cx="288.2" cy="91.1" r="3.25" fill="none" stroke="#8000ff" stroke-width="2.3"/>
<ellipse cx="307.1" cy="80.7" rx="1.3" ry="0.95" fill="#8000ff"/><circle cx="307.1" cy="80.7" r="3.25" fill="none" stroke="#8000ff" stroke-width="2.3"/>
<ellipse cx="337.8" cy="57.6" rx="1.3" ry="0.95" fill="#8000ff"/><circle cx="337.8" cy="57.6" r="3.25" fill="none" stroke="#8000ff" stroke-width="2.3"/>
<ellipse cx="377.3" cy="81.6" rx="1.3" ry="0.95" fill="#8000ff"/><circle cx="377.3" cy="81.6" r="3.25" fill="none" stroke="#8000ff" stroke-width="2.3"/>
<ellipse cx="410.1" cy="76.5" rx="1.3" ry="0.95" fill="#8000ff"/><circle cx="410.1" cy="76.5" r="3.25" fill="none" stroke="#8000ff" stroke-width="2.3"/>
<ellipse cx="435.3" cy="85.2" rx="1.3" ry="0.95" fill="#8000ff"/><circle cx="435.3" cy="85.2" r="3.25" fill="none" stroke="#8000ff" stroke-width="2.3"/>
<ellipse cx="456.4" cy="106.7" rx="1.3" ry="0.95" fill="#8000ff"/><circle cx="456.4" cy="106.7" r="3.25" fill="none" stroke="#8000ff" stroke-width="2.3"/>
<ellipse cx="474.0" cy="125.6" rx="1.3" ry="0.95" fill="#8000ff"/><circle cx="474.0" cy="125.6" r="3.25" fill="none" stroke="#8000ff" stroke-width="2.3"/>
<ellipse cx="489.4" cy="135.7" rx="1.3" ry="0.95" fill="#8000ff"/><circle cx="489.4" cy="135.7" r="3.25" fill="none" stroke="#8000ff" stroke-width="2.3"/>
<ellipse cx="505.9" cy="153.4" rx="1.3" ry="0.95" fill="#8000ff"/><circle cx="505.9" cy="153.4" r="3.25" fill="none" stroke="#8000ff" stroke-width="2.3"/>
<ellipse cx="522.8" cy="181.9" rx="1.3" ry="0.95" fill="#8000ff"/><circle cx="522.8" cy="181.9" r="3.25" fill="none" stroke="#8000ff" stroke-width="2.3"/>
<ellipse cx="537.7" cy="202.9" rx="1.3" ry="0.95" fill="#8000ff"/><circle cx="537.7" cy="202.9" r="3.25" fill="none" stroke="#8000ff" stroke-width="2.3"/>
<ellipse cx="552.5" cy="226.3" rx="1.3" ry="0.95" fill="#8000ff"/><circle cx="552.5" cy="226.3" r="3.25" fill="none" stroke="#8000ff" stroke-width="2.3"/>
<ellipse cx="576.8" cy="274.6" rx="1.3" ry="0.95" fill="#8000ff"/><circle cx="576.8" cy="274.6" r="3.25" fill="none" stroke="#8000ff" stroke-width="2.3"/>
<ellipse cx="606.4" cy="295.3" rx="1.3" ry="0.95" fill="#8000ff"/><circle cx="606.4" cy="295.3" r="3.25" fill="none" stroke="#8000ff" stroke-width="2.3"/>
<ellipse cx="641.6" cy="367.8" rx="1.3" ry="0.95" fill="#8000ff"/><circle cx="641.6" cy="367.8" r="3.25" fill="none" stroke="#8000ff" stroke-width="2.3"/>
<ellipse cx="681.7" cy="429.3" rx="1.3" ry="0.95" fill="#8000ff"/><circle cx="681.7" cy="429.3" r="3.25" fill="none" stroke="#8000ff" stroke-width="2.3"/>
<ellipse cx="713.3" cy="456.7" rx="1.3" ry="0.95" fill="#8000ff"/><circle cx="713.3" cy="456.7" r="3.25" fill="none" stroke="#8000ff" stroke-width="2.3"/>
<ellipse cx="743.5" cy="477.6" rx="1.3" ry="0.95" fill="#8000ff"/><circle cx="743.5" cy="477.6" r="3.25" fill="none" stroke="#8000ff" stroke-width="2.3"/>
<ellipse cx="773.7" cy="548.0" rx="1.3" ry="0.95" fill="#8000ff"/><circle cx="773.7" cy="548.0" r="3.25" fill="none" stroke="#8000ff" stroke-width="2.3"/>
<ellipse cx="805.7" cy="617.7" rx="1.3" ry="0.95" fill="#8000ff"/><circle cx="805.7" cy="617.7" r="3.25" fill="none" stroke="#8000ff" stroke-width="2.3"/>
</g>
<ellipse cx="174.5" cy="472.0" rx="1.3" ry="0.95" fill="#000000"/><circle cx="174.5" cy="472.0" r="3.25" fill="none" stroke="#000000" stroke-width="2.3"/>
<text x="212.1" y="480.9" font-size="21.3" fill="#000000" style="fill:#000000">2006b_Jul-Dec</text>
<ellipse cx="174.5" cy="504.9" rx="1.3" ry="0.95" fill="#ff0000"/><circle cx="174.5" cy="504.9" r="3.25" fill="none" stroke="#ff0000" stroke-width="2.3"/>
<text x="212.1" y="513.8" font-size="21.3" fill="#ff0000" style="fill:#ff0000">2007a_Jan-Jun</text>
<ellipse cx="174.5" cy="538.0" rx="1.3" ry="0.95" fill="#0000ff"/><circle cx="174.5" cy="538.0" r="3.25" fill="none" stroke="#0000ff" stroke-width="2.3"/>
<text x="212.1" y="546.9" font-size="21.3" fill="#0000ff" style="fill:#0000ff">2007b_Jul-Dec</text>
<ellipse cx="174.5" cy="571.2" rx="1.3" ry="0.95" fill="#ff00ff"/><circle cx="174.5" cy="571.2" r="3.25" fill="none" stroke="#ff00ff" stroke-width="2.3"/>
<text x="212.1" y="580.1" font-size="21.3" fill="#8000ff" style="fill:#8000ff">2008a_Jan-Jun</text>
<ellipse cx="174.5" cy="604.6" rx="1.3" ry="0.95" fill="#008000"/><circle cx="174.5" cy="604.6" r="3.25" fill="none" stroke="#008000" stroke-width="2.3"/>
<text x="212.1" y="613.5" font-size="21.3" fill="#008080" style="fill:#008080">2008b_Jul-Dec</text>
<ellipse cx="174.5" cy="637.7" rx="1.3" ry="0.95" fill="#000080"/><circle cx="174.5" cy="637.7" r="3.25" fill="none" stroke="#000080" stroke-width="2.3"/>
<text x="212.1" y="646.6" font-size="21.3" fill="#8000ff" style="fill:#8000ff">2009a_Jan-Jun</text>
<ellipse cx="174.5" cy="671.1" rx="1.3" ry="0.95" fill="#8000ff"/><circle cx="174.5" cy="671.1" r="3.25" fill="none" stroke="#8000ff" stroke-width="2.3"/>
<text x="212.1" y="680.0" font-size="21.3" fill="#000080" style="fill:#000080">2009b_Jul-Dec</text>
</svg></body></html>
